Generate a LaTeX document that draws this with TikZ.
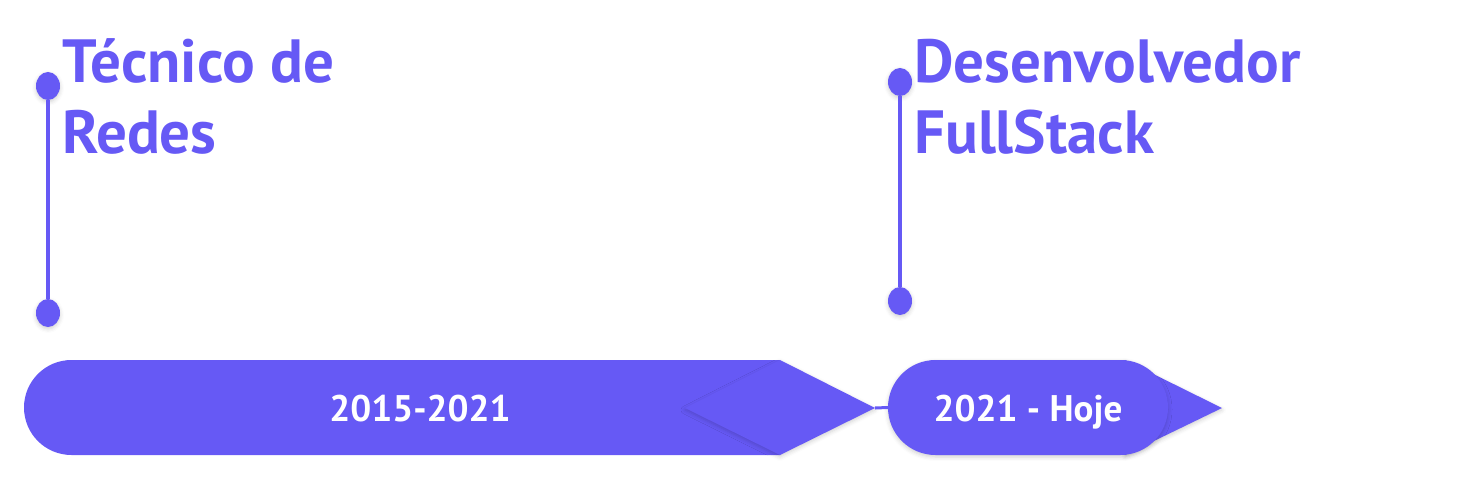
\documentclass[tikz,border=0pt]{standalone}
\usepackage{fontspec}
\setmainfont{PT Sans}
\usetikzlibrary{positioning,shapes.geometric,shapes.misc,shadows.blur}
\definecolor{cBar}{HTML}{6659F5}
\tikzset{
  shd/.style={blur shadow={shadow xshift=0pt,shadow yshift=-2pt,shadow blur radius=4pt,shadow opacity=18}},
  dot/.style={ellipse,fill=cBar,minimum width=24pt,minimum height=28pt,inner sep=0pt,shd},
  stem/.style={draw=cBar,line width=4pt},
  ttl/.style={anchor=base west,text=cBar,inner sep=0pt,font=\fontsize{61}{71}\selectfont\bfseries},
  pill/.style={rounded rectangle,fill=cBar,minimum height=95pt,inner sep=0pt},
  kite/.style={fill=cBar,shd},
  link/.style={draw=cBar,line width=3pt},
  yr/.style={anchor=base,text=white,inner sep=0pt,font=\fontsize{37}{44}\selectfont\bfseries}}

\begin{document}
\begin{tikzpicture}[x=1pt,y=-1pt]
\useasboundingbox (0,0) rectangle (1466,480);
% first period
\node[dot] (d1a) at (48,86) {};
\node[dot] (d1b) at (48,313) {};
\draw[stem] (d1a) -- (d1b);
\node[ttl] (t1a) at (62,82) {Técnico de};
\node[ttl] (t1b) at (62,153) {Redes};
\node[pill,rounded rectangle right arc=none,minimum width=756pt] (bar1) at (402,407.5) {};
\fill[kite] (685,408) -- (780,360) -- (875,408) -- (780,455) -- cycle;
\coordinate (tip1) at (875,408);
\node[yr] (y1) at (420,421) {2015-2021};
% second period
\node[dot] (d2a) at (900,82) {};
\node[dot] (d2b) at (900,301) {};
\draw[stem] (d2a) -- (d2b);
\node[ttl] (t2a) at (914,82) {Desenvolvedor};
\node[ttl] (t2b) at (914,153) {FullStack};
\fill[kite] (1125,360) -- (1222,408) -- (1125,455) -- cycle;
\node[pill,minimum width=280pt,shd] (bar2) at (1028,407.5) {};
\draw[link] (tip1) -- (bar2.west);
\node[yr] (y2) at (1028,421) {2021 - Hoje};
\end{tikzpicture}
\end{document}
